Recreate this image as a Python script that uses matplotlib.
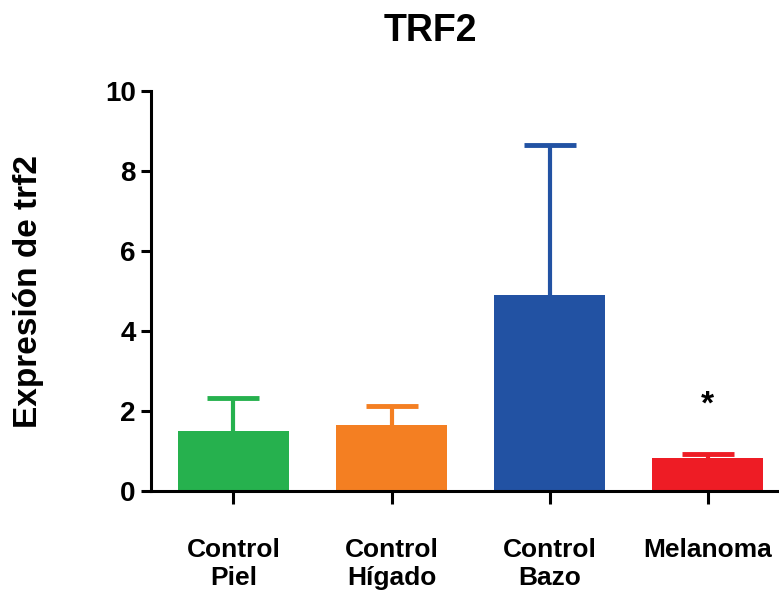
import matplotlib
matplotlib.use("Agg")
import matplotlib.pyplot as plt

categories = ["Control\nPiel", "Control\nHígado", "Control\nBazo", "Melanoma"]
means = [1.5, 1.65, 4.9, 0.82]
errors_up = [0.83, 0.47, 3.75, 0.12]
colors = ["#26b14e", "#f47f22", "#2252a3", "#ee1c25"]
yticks = [0, 2, 4, 6, 8, 10]

plt.rcParams['font.family'] = ['Liberation Sans', 'DejaVu Sans']
fig = plt.figure(figsize=(7.79, 5.91), dpi=100)
ax = fig.add_axes([0.194, 0.169, 0.806, 0.677])

x = list(range(len(categories)))
for i in x:
    _, caps, _ = ax.errorbar(i, means[i], yerr=[[0], [errors_up[i]]], fmt='none',
                             ecolor=colors[i], elinewidth=3, capsize=19,
                             capthick=3.5, zorder=1)
    caps[0].set_visible(False)
ax.bar(x, means, width=0.7, color=colors, zorder=2)

ax.text(3, 2.15, "*", ha='center', va='center', fontsize=24, fontweight='bold')

ax.set_xlim(-0.52, 3.45)
ax.set_ylim(0, 10)
ax.set_yticks(yticks)
ax.set_yticklabels([str(t) for t in yticks], fontsize=20, fontweight='bold')
ax.set_xticks(x)
ax.set_xticklabels(categories, fontsize=19, fontweight='bold')
ax.spines['top'].set_visible(False)
ax.spines['right'].set_visible(False)
ax.spines['left'].set_linewidth(2.2)
ax.spines['bottom'].set_linewidth(2.2)
ax.tick_params(axis='y', width=2.2, length=7, pad=4)
ax.tick_params(axis='x', width=2.2, length=9, pad=25)
ax.set_ylabel("Expresión de trf2", fontsize=24, fontweight='bold')
ax.yaxis.set_label_coords(-0.17, 0.5)
fig.text(0.553, 0.947, "TRF2", ha='center', va='center', fontsize=27, fontweight='bold')

fig.savefig("out.png", dpi=100)
